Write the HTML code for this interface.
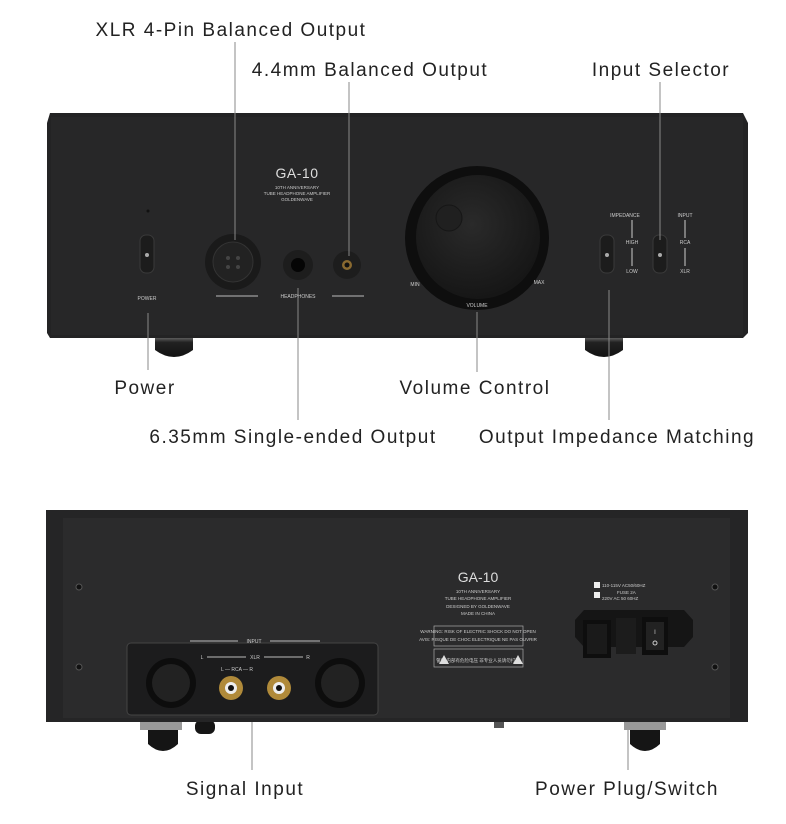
<!DOCTYPE html>
<html><head><meta charset="utf-8"><style>
html,body{margin:0;padding:0;background:#fff;}
svg{display:block;font-family:"Liberation Sans",sans-serif;}
</style></head><body>
<svg width="786" height="824" viewBox="0 0 786 824" xmlns="http://www.w3.org/2000/svg">
<defs>
<radialGradient id="kn" cx="45%" cy="40%" r="60%"><stop offset="0" stop-color="#2a2a2a"/><stop offset="1" stop-color="#161616"/></radialGradient>
<linearGradient id="ft" x1="0" y1="0" x2="0" y2="1"><stop offset="0" stop-color="#777"/><stop offset="0.3" stop-color="#222"/><stop offset="1" stop-color="#111"/></linearGradient>
</defs>
<rect width="786" height="824" fill="#fff"/>
<!-- FRONT -->
<path d="M155 336 h38 v14 q-19 14 -38 0z" fill="url(#ft)"/>
<path d="M585 336 h38 v14 q-19 14 -38 0z" fill="url(#ft)"/>
<path d="M50 113 H743 L748 123 V333 L743 338 H50 L47 333 V123Z" fill="#232324"/>
<rect x="51" y="117" width="692" height="218" fill="#272728"/>
<text x="297" y="178" font-size="14" fill="#ddd" text-anchor="middle" letter-spacing="0.5">GA-10</text>
<text x="297" y="189" font-size="4.5" fill="#ccc" text-anchor="middle">10TH ANNIVERSARY</text>
<text x="297" y="195" font-size="4.5" fill="#ccc" text-anchor="middle">TUBE HEADPHONE AMPLIFIER</text>
<text x="297" y="201" font-size="4.5" fill="#ccc" text-anchor="middle">GOLDENWAVE</text>
<circle cx="148" cy="211" r="1.5" fill="#111"/>
<rect x="140" y="235" width="14" height="38" rx="6" fill="#1c1c1c" stroke="#3a3a3a"/>
<circle cx="147" cy="255" r="2" fill="#aaa"/>
<text x="147" y="300" font-size="5" fill="#ccc" text-anchor="middle">POWER</text>
<circle cx="233" cy="262" r="28" fill="#1a1a1a"/><circle cx="233" cy="262" r="20" fill="#222" stroke="#333"/>
<circle cx="228" cy="258" r="2" fill="#444"/><circle cx="238" cy="258" r="2" fill="#444"/><circle cx="228" cy="267" r="2" fill="#444"/><circle cx="238" cy="267" r="2" fill="#444"/>
<circle cx="298" cy="265" r="15" fill="#1d1d1d"/><circle cx="298" cy="265" r="7" fill="#050505"/>
<circle cx="347" cy="265" r="14" fill="#1d1d1d"/><circle cx="347" cy="265" r="5" fill="#8a6a30"/><circle cx="347" cy="265" r="2.5" fill="#111"/>
<line x1="216" y1="296" x2="258" y2="296" stroke="#bbb"/><line x1="332" y1="296" x2="364" y2="296" stroke="#bbb"/>
<text x="298" y="298" font-size="5" fill="#ccc" text-anchor="middle">HEADPHONES</text>
<circle cx="477" cy="238" r="72" fill="#0e0e0e"/>
<circle cx="478" cy="237" r="62" fill="url(#kn)"/>
<circle cx="449" cy="218" r="13" fill="#202020" stroke="#161616"/>
<text x="415" y="286" font-size="5" fill="#ccc" text-anchor="middle">MIN</text>
<text x="539" y="284" font-size="5" fill="#ccc" text-anchor="middle">MAX</text>
<text x="477" y="307" font-size="5" fill="#ccc" text-anchor="middle">VOLUME</text>
<rect x="600" y="235" width="14" height="38" rx="6" fill="#1c1c1c" stroke="#3a3a3a"/><circle cx="607" cy="255" r="2" fill="#aaa"/>
<rect x="653" y="235" width="14" height="38" rx="6" fill="#1c1c1c" stroke="#3a3a3a"/><circle cx="660" cy="255" r="2" fill="#aaa"/>
<text x="625" y="217" font-size="5" fill="#ccc" text-anchor="middle">IMPEDANCE</text>
<text x="632" y="244" font-size="5" fill="#ccc" text-anchor="middle">HIGH</text>
<text x="632" y="273" font-size="5" fill="#ccc" text-anchor="middle">LOW</text>
<line x1="632" y1="220" x2="632" y2="238" stroke="#ccc"/><line x1="632" y1="248" x2="632" y2="266" stroke="#ccc"/>
<text x="685" y="217" font-size="5" fill="#ccc" text-anchor="middle">INPUT</text>
<text x="685" y="244" font-size="5" fill="#ccc" text-anchor="middle">RCA</text>
<text x="685" y="273" font-size="5" fill="#ccc" text-anchor="middle">XLR</text>
<line x1="685" y1="220" x2="685" y2="238" stroke="#ccc"/><line x1="685" y1="248" x2="685" y2="266" stroke="#ccc"/>
<!-- leader lines -->
<g stroke="#888" stroke-width="1">
<line x1="235" y1="42" x2="235" y2="240"/>
<line x1="349" y1="82" x2="349" y2="256"/>
<line x1="660" y1="82" x2="660" y2="240"/>
<line x1="148" y1="313" x2="148" y2="370"/>
<line x1="298" y1="288" x2="298" y2="420"/>
<line x1="477" y1="312" x2="477" y2="372"/>
<line x1="609" y1="290" x2="609" y2="420"/>
<line x1="252" y1="690" x2="252" y2="770"/>
<line x1="628" y1="640" x2="628" y2="770"/>
</g>
<g font-size="19" fill="#222" text-anchor="middle" letter-spacing="1.5">
<text x="231" y="36">XLR 4-Pin Balanced Output</text>
<text x="370" y="76">4.4mm Balanced Output</text>
<text x="661" y="76">Input Selector</text>
<text x="145" y="394">Power</text>
<text x="475" y="394">Volume Control</text>
<text x="293" y="443">6.35mm Single-ended Output</text>
<text x="617" y="443">Output Impedance Matching</text>
<text x="245" y="795">Signal Input</text>
<text x="627" y="795">Power Plug/Switch</text>
</g>
<!-- REAR -->
<rect x="140" y="720" width="42" height="10" fill="#999"/><path d="M148 730 h30 v14 q-15 14 -30 0z" fill="#151515"/>
<rect x="195" y="720" width="20" height="14" rx="6" fill="#151515"/>
<rect x="624" y="720" width="42" height="10" fill="#999"/><path d="M630 730 h30 v14 q-15 14 -30 0z" fill="#151515"/>
<rect x="494" y="720" width="10" height="8" fill="#555"/>
<rect x="46" y="510" width="702" height="212" fill="#252526"/>
<rect x="63" y="518" width="667" height="200" fill="#2b2b2c"/>
<g fill="#111" stroke="#555"><circle cx="79" cy="587" r="3"/><circle cx="79" cy="667" r="3"/><circle cx="715" cy="587" r="3"/><circle cx="715" cy="667" r="3"/></g>
<text x="478" y="582" font-size="14" fill="#ddd" text-anchor="middle">GA-10</text>
<g font-size="4.5" fill="#ccc" text-anchor="middle">
<text x="478" y="593">10TH ANNIVERSARY</text><text x="478" y="600">TUBE HEADPHONE AMPLIFIER</text>
<text x="478" y="608">DESIGNED BY GOLDENWAVE</text><text x="478" y="615">MADE IN CHINA</text>
<text x="478" y="633">WARNING: RISK OF ELECTRIC SHOCK DO NOT OPEN</text><text x="478" y="641">AVIS: RISQUE DE CHOC ELECTRIQUE NE PAS OUVRIR</text>
<text x="478" y="662">警告 内部有危险电压 非专业人员请勿打开</text>
</g>
<rect x="434" y="626" width="89" height="20" fill="none" stroke="#aaa" stroke-width="0.7"/>
<rect x="434" y="649" width="89" height="18" fill="none" stroke="#aaa" stroke-width="0.7"/>
<path d="M439 664 l5 -9 l5 9z M513 664 l5 -9 l5 9z" fill="#ddd"/>
<rect x="594" y="582" width="6" height="6" fill="#eee"/><rect x="594" y="592" width="6" height="6" fill="#eee"/>
<g font-size="4.5" fill="#ccc"><text x="602" y="587">110-115V AC50/60HZ</text><text x="617" y="594">FUSE 2A</text><text x="602" y="600">220V AC 50 60HZ</text></g>
<path d="M575 620 L584 610 H684 L693 620 V637 L684 647 H584 L575 637Z" fill="#151515"/>
<rect x="583" y="620" width="28" height="38" fill="#0e0e0e"/>
<rect x="587" y="624" width="20" height="30" fill="#1a1a1a"/>
<rect x="616" y="618" width="20" height="36" fill="#1c1c1c"/>
<rect x="642" y="617" width="26" height="38" fill="#0e0e0e"/><rect x="646" y="622" width="18" height="28" fill="#222"/>
<text x="655" y="634" font-size="6" fill="#ccc" text-anchor="middle">I</text><circle cx="655" cy="643" r="2" fill="none" stroke="#ccc"/>
<rect x="127" y="643" width="251" height="72" rx="4" fill="#1c1c1d" stroke="#444"/>
<line x1="190" y1="641" x2="238" y2="641" stroke="#bbb"/><line x1="270" y1="641" x2="320" y2="641" stroke="#bbb"/>
<text x="254" y="643" font-size="5" fill="#ccc" text-anchor="middle">INPUT</text>
<g font-size="5" fill="#ccc" text-anchor="middle"><text x="202" y="659">L</text><text x="255" y="659">XLR</text><text x="308" y="659">R</text><text x="237" y="671">L — RCA — R</text></g>
<line x1="207" y1="657" x2="246" y2="657" stroke="#bbb"/><line x1="264" y1="657" x2="303" y2="657" stroke="#bbb"/>
<circle cx="171" cy="683" r="25" fill="#0d0d0d"/><circle cx="171" cy="683" r="19" fill="#222"/>
<circle cx="340" cy="683" r="25" fill="#0d0d0d"/><circle cx="340" cy="683" r="19" fill="#222"/>
<circle cx="231" cy="688" r="12" fill="#b08a3a"/><circle cx="231" cy="688" r="6" fill="#eee"/><circle cx="231" cy="688" r="3" fill="#111"/>
<circle cx="279" cy="688" r="12" fill="#b08a3a"/><circle cx="279" cy="688" r="6" fill="#eee"/><circle cx="279" cy="688" r="3" fill="#111"/>
</svg>
</body></html>
